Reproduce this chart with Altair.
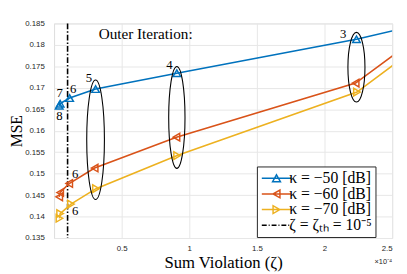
import altair as alt
import pandas as pd

# ---- data (sum violation in units of 1e-4) ----
iterations = [8, 7, 6, 5, 4, 3, 2]
viol_k50 = [0.038, 0.045, 0.115, 0.307, 0.908, 2.236, 3.0]
mse_k50 = [0.1658, 0.1663, 0.1676, 0.1697, 0.1734, 0.1813, 0.1869]
viol_k60 = [0.038, 0.045, 0.112, 0.300, 0.905, 2.230, 3.0]
mse_k60 = [0.1446, 0.1456, 0.1477, 0.1513, 0.1585, 0.1711, 0.1890]
viol_k70 = [0.040, 0.045, 0.125, 0.310, 0.910, 2.240, 3.0]
mse_k70 = [0.1396, 0.1407, 0.1429, 0.1465, 0.1542, 0.1690, 0.1869]

series_names = ["κ = −50 [dB]", "κ = −60 [dB]", "κ = −70 [dB]"]
threshold_name = "ζ = ζₜₕ = 10⁻⁵"
threshold_x = [0.1]

x_ticks = [0.5, 1, 1.5, 2, 2.5]
y_ticks = [0.135, 0.14, 0.145, 0.15, 0.155, 0.16, 0.165, 0.17, 0.175, 0.18, 0.185]

# iteration labels (text, x, y)
lab_text = ["7", "8", "6", "5", "4", "3", "6", "6"]
lab_x = [0.042, 0.040, 0.142, 0.258, 0.853, 2.138, 0.156, 0.156]
lab_y = [0.16876, 0.16339, 0.16961, 0.17221, 0.17530, 0.18244, 0.14995, 0.14134]

# ellipse centres (x, y) for outer iterations 5, 4, 3
ell_x = [0.307, 0.908, 2.236]
ell_y = [0.1579, 0.1631, 0.1748]

note_text = ["Outer Iteration:"]
note_x = [0.33]
note_y = [0.1825]

# ---- styles ----
colors = ["#0072BD", "#D95319", "#EDB120"]
shapes = ["triangle-up", "triangle-left", "triangle-right"]
SERIF = "Liberation Serif"
SANS = "Liberation Sans"
W, H = 345, 219

rows = []
for name, xs, ys in zip(series_names, [viol_k50, viol_k60, viol_k70], [mse_k50, mse_k60, mse_k70]):
    for it, xv, yv in zip(iterations, xs, ys):
        rows.append({"series": name, "iter": it, "viol": xv, "mse": yv})
df = pd.DataFrame(rows)

x_scale = alt.Scale(domain=[0, 2.5], nice=False, zero=False)
y_scale = alt.Scale(domain=[0.135, 0.185], nice=False, zero=False)

x_axis = alt.Axis(values=x_ticks, labelExpr="format(datum.value, '~g')", labelOverlap=False,
                  grid=True, gridColor="#e6e6e6", domain=False,
                  ticks=False, labelFont=SANS, labelFontSize=8, labelColor="#262626",
                  labelPadding=7, title="Sum Violation (ζ)", titleFont=SERIF, titleFontSize=17,
                  titleFontWeight="normal", titleColor="black", titlePadding=2)
y_axis = alt.Axis(values=y_ticks, labelExpr="format(datum.value, '.3~g')", labelOverlap=False,
                  grid=True, gridColor="#e6e6e6", domain=False,
                  ticks=False, labelFont=SANS, labelFontSize=8, labelColor="#262626",
                  labelPadding=10, title="MSE", titleFont=SERIF, titleFontSize=16,
                  titleFontWeight="normal", titleColor="black",
                  titleX=-38, titleY=H / 2, titleAlign="center", titleBaseline="middle")

color_scale = alt.Scale(domain=series_names, range=colors)
shape_scale = alt.Scale(domain=series_names, range=shapes)

base = alt.Chart(df)
lines = base.mark_line(strokeWidth=1.6, clip=True).encode(
    x=alt.X("viol:Q", scale=x_scale, axis=x_axis),
    y=alt.Y("mse:Q", scale=y_scale, axis=y_axis),
    color=alt.Color("series:N", scale=color_scale, legend=None),
    order=alt.Order("viol:Q"),
)
points = base.mark_point(filled=False, size=60, strokeWidth=1.5, opacity=1, clip=True).encode(
    x=alt.X("viol:Q", scale=x_scale, axis=x_axis),
    y=alt.Y("mse:Q", scale=y_scale, axis=y_axis),
    color=alt.Color("series:N", scale=color_scale, legend=None),
    shape=alt.Shape("series:N", scale=shape_scale, legend=None),
)

thr = alt.Chart(pd.DataFrame({"x": threshold_x})).mark_rule(
    color="black", strokeWidth=1.6, strokeDash=[6, 2, 1.5, 2]
).encode(x=alt.X("x:Q", scale=x_scale, axis=x_axis))


def ellipse_path(a):
    k = 0.5523
    return (f"M 0 -1 C {k*a:.4f} -1 {a:.4f} {-k} {a:.4f} 0 C {a:.4f} {k} {k*a:.4f} 1 0 1 "
            f"C {-k*a:.4f} 1 {-a:.4f} {k} {-a:.4f} 0 C {-a:.4f} {-k} {-k*a:.4f} -1 0 -1 Z")


ell_aspect = [0.148, 0.16, 0.245]
ell_size = [122 ** 2, 104 ** 2, 71 ** 2]
ellipses = []
for ex, ey, a, s in zip(ell_x, ell_y, ell_aspect, ell_size):
    ellipses.append(
        alt.Chart(pd.DataFrame({"x": [ex], "y": [ey]})).mark_point(
            shape=ellipse_path(a), size=s, filled=False, stroke="black", strokeWidth=1.1, opacity=1
        ).encode(x=alt.X("x:Q", scale=x_scale, axis=x_axis), y=alt.Y("y:Q", scale=y_scale, axis=y_axis))
    )

labels = alt.Chart(pd.DataFrame({"t": lab_text, "x": lab_x, "y": lab_y})).mark_text(
    font=SERIF, fontSize=13, color="black", align="center", baseline="middle"
).encode(x=alt.X("x:Q", scale=x_scale, axis=x_axis), y=alt.Y("y:Q", scale=y_scale, axis=y_axis), text="t:N")

note = alt.Chart(pd.DataFrame({"t": note_text, "x": note_x, "y": note_y})).mark_text(
    font=SERIF, fontSize=15.5, color="black", align="left", baseline="middle"
).encode(x=alt.X("x:Q", scale=x_scale, axis=x_axis), y=alt.Y("y:Q", scale=y_scale, axis=y_axis), text="t:N")

exp_note = alt.Chart(pd.DataFrame({"t": ["×10⁻⁴"], "x": [2.5]})).mark_text(
    font=SANS, fontSize=7.5, color="#262626", align="right", baseline="middle"
).encode(x=alt.X("x:Q", scale=x_scale, axis=x_axis), y=alt.value(H + 25), text="t:N")

# legend-only layer (native legend with line+marker symbols)
legend_entries = series_names + [threshold_name]
legend_paths = [
    "M -3 0 L 3 0 M 0 -0.7 L 0.8 0.7 L -0.8 0.7 Z",
    "M -3 0 L 3 0 M -0.7 0 L 0.7 -0.8 L 0.7 0.8 Z",
    "M -3 0 L 3 0 M 0.7 0 L -0.7 -0.8 L -0.7 0.8 Z",
    "M -3 0 L -2 0 M -1.6 0 L -1.4 0 M -1 0 L 0 0 M 0.4 0 L 0.6 0 M 1 0 L 2 0 M 2.4 0 L 2.6 0",
]
leg = alt.Legend(title=None, orient="none", legendX=207, legendY=146, fillColor="white",
                 strokeColor="#262626", padding=4, cornerRadius=0, labelFont=SERIF,
                 labelFontSize=16, labelColor="black", symbolSize=100, symbolStrokeWidth=1.5,
                 symbolOffset=8, labelOffset=5, rowPadding=0)
legend_layer = alt.Chart(pd.DataFrame({"entry": legend_entries})).mark_point(
    filled=False, clip=True, opacity=1, strokeWidth=1.5
).encode(
    x=alt.value(-60), y=alt.value(-60),
    color=alt.Color("entry:N", scale=alt.Scale(domain=legend_entries, range=colors + ["black"]), legend=leg),
    shape=alt.Shape("entry:N", scale=alt.Scale(domain=legend_entries, range=legend_paths), legend=leg),
)

chart = alt.layer(thr, lines, points, *ellipses, labels, note, exp_note, legend_layer).resolve_scale(
    color="independent", shape="independent"
).properties(
    width=W, height=H,
    autosize=alt.AutoSizeParams(type="none"),
    padding={"left": 47, "top": 13, "right": 7, "bottom": 34},
).configure_view(stroke="#262626", strokeWidth=0.8).configure_axis(
    labelOverlap=False
).configure(background="white")

chart.save("out.html", embed_options={"renderer": "svg", "actions": False})
